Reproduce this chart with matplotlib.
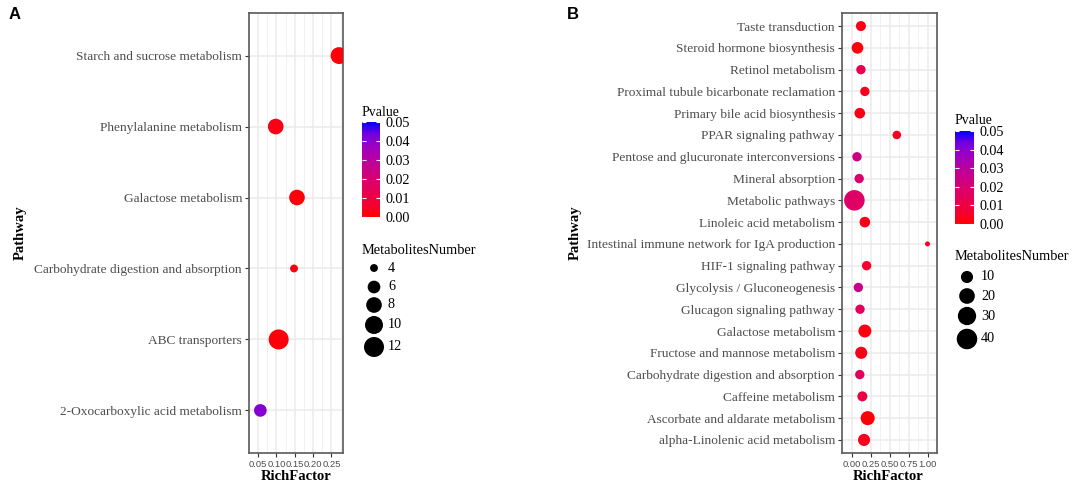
import numpy as np
import matplotlib
matplotlib.use("Agg")
import matplotlib.pyplot as plt
from matplotlib.colors import LinearSegmentedColormap, Normalize
from matplotlib.colorbar import ColorbarBase

SERIF = ['Liberation Serif', 'DejaVu Serif']
SANS = ['Liberation Sans', 'DejaVu Sans']
GREY30 = '#4D4D4D'

# ---- panel A (rows listed top to bottom) ----
a_pathways = ["Starch and sucrose metabolism", "Phenylalanine metabolism",
              "Galactose metabolism", "Carbohydrate digestion and absorption",
              "ABC transporters", "2-Oxocarboxylic acid metabolism"]
a_rich = [0.271, 0.098, 0.156, 0.148, 0.106, 0.056]
a_count = [9, 8, 8, 4, 12, 6]
a_pvalue = [0.001, 0.003, 0.001, 0.002, 0.001, 0.041]
a_xticks = [0.05, 0.10, 0.15, 0.20, 0.25]
a_xticklabels = ["0.05", "0.10", "0.15", "0.20", "0.25"]
a_size_breaks = [4, 6, 8, 10, 12]

# ---- panel B (rows listed top to bottom) ----
b_pathways = ["Taste transduction", "Steroid hormone biosynthesis", "Retinol metabolism",
              "Proximal tubule bicarbonate reclamation", "Primary bile acid biosynthesis",
              "PPAR signaling pathway", "Pentose and glucuronate interconversions",
              "Mineral absorption", "Metabolic pathways", "Linoleic acid metabolism",
              "Intestinal immune network for IgA production", "HIF-1 signaling pathway",
              "Glycolysis / Gluconeogenesis", "Glucagon signaling pathway",
              "Galactose metabolism", "Fructose and mannose metabolism",
              "Carbohydrate digestion and absorption", "Caffeine metabolism",
              "Ascorbate and aldarate metabolism", "alpha-Linolenic acid metabolism"]
b_rich = [0.124, 0.079, 0.124, 0.176, 0.109, 0.596, 0.072, 0.101, 0.038, 0.176,
          1.000, 0.199, 0.090, 0.112, 0.176, 0.128, 0.109, 0.143, 0.213, 0.165]
b_count = [6, 9, 5, 5, 7, 4, 5, 5, 40, 7, 2, 5, 5, 5, 12, 10, 5, 6, 15, 10]
b_pvalue = [0.003, 0.001, 0.012, 0.004, 0.003, 0.004, 0.024, 0.019, 0.017, 0.003,
            0.004, 0.006, 0.025, 0.015, 0.002, 0.003, 0.015, 0.011, 0.001, 0.004]
b_xticks = [0.00, 0.25, 0.50, 0.75, 1.00]
b_xticklabels = ["0.00", "0.25", "0.50", "0.75", "1.00"]
b_size_breaks = [10, 20, 30, 40]

p_breaks = [0.00, 0.01, 0.02, 0.03, 0.04, 0.05]

# red -> blue gradient (Lab-interpolated like ggplot)
cmap = LinearSegmentedColormap.from_list(
    "pval", ['#FF0000', '#F40031', '#E80050', '#DA006C', '#C90088',
             '#B500A5', '#9A00C3', '#7300E0', '#0000FF'])
norm = Normalize(0, 0.05)

# size scales: (lowest value, highest value, smallest diameter px, largest diameter px)
A_SIZE = (3.5, 12, 4, 20)
B_SIZE = (2, 40, 5, 20.5)

W, H = 1084, 496
fig = plt.figure(figsize=(W / 100, H / 100), dpi=100)


def px_box(left, top, right, bottom):
    return [left / W, 1 - bottom / H, (right - left) / W, (bottom - top) / H]


def diam_px(v, lo, hi, dmin, dmax):
    v = np.asarray(v, float)
    return dmin + (dmax - dmin) * np.sqrt(np.clip((v - lo) / (hi - lo), 0, 1))


def area(d):
    return (np.asarray(d) * 0.72) ** 2


def bubble_panel(box, pathways, rich, count, pvalue, xticks, xticklabels, size_args):
    ax = fig.add_axes(px_box(*box))
    y = np.arange(len(pathways))[::-1] + 1
    ax.scatter(rich, y, s=area(diam_px(count, *size_args)), c=pvalue, cmap=cmap,
               norm=norm, linewidths=0, zorder=3)
    lo, hi = min(rich), max(rich)
    pad = 0.05 * (hi - lo)
    ax.set_xlim(lo - pad, hi + pad)
    ax.set_ylim(0.4, len(pathways) + 0.6)
    ax.set_yticks(y)
    ax.set_yticklabels(pathways, family=SERIF, fontsize=9.6, color=GREY30)
    ax.set_xticks(xticks)
    ax.set_xticklabels(xticklabels, family=SANS, fontsize=6.8, color=GREY30)
    step = xticks[1] - xticks[0]
    ax.set_xticks(np.arange(xticks[0] - step / 2, xticks[-1] + step, step), minor=True)
    ax.grid(True, which='major', color='#EBEBEB', lw=1.1)
    ax.grid(True, which='minor', axis='x', color='#EFEFEF', lw=0.6)
    ax.set_axisbelow(True)
    ax.tick_params(which='minor', length=0)
    ax.tick_params(which='major', length=3, width=0.8, color='#333333', pad=2)
    for sp in ax.spines.values():
        sp.set_color('#5A5A5A')
        sp.set_linewidth(1.2)
    return ax


def colour_legend(cbar_box, title_y, size_title_y):
    left = cbar_box[0]
    fig.text(left / W, 1 - title_y / H, "Pvalue", family=SERIF, fontsize=10,
             ha='left', va='center')
    cax = fig.add_axes(px_box(*cbar_box))
    cb = ColorbarBase(cax, cmap=cmap, norm=norm, ticks=p_breaks)
    cb.outline.set_visible(False)
    cb.set_ticklabels([f"{p:.2f}" for p in p_breaks])
    cax.tick_params(direction='in', color='white', length=3, width=0.8, pad=4,
                    left=True, right=True, labelleft=False, labelright=True)
    for t in cax.get_yticklabels():
        t.set_family(SERIF)
        t.set_fontsize(10.2)
    fig.text(left / W, 1 - size_title_y / H, "MetabolitesNumber", family=SERIF,
             fontsize=10.4, ha='left', va='center')


bubble_panel((249, 13, 343, 453), a_pathways, a_rich, a_count, a_pvalue,
             a_xticks, a_xticklabels, A_SIZE)
bubble_panel((842, 13, 937, 453), b_pathways, b_rich, b_count, b_pvalue,
             b_xticks, b_xticklabels, B_SIZE)

# axis titles and panel letters
for cx, ycx in [(296, 20), (888, 575)]:
    fig.text(cx / W, 1 - 477 / H, "RichFactor", family=SERIF, fontweight='bold',
             fontsize=10.5, ha='center', va='center')
    fig.text(ycx / W, 1 - 233 / H, "Pathway", family=SERIF, fontweight='bold',
             fontsize=10.5, rotation=90, ha='center', va='center')
for letter, lx in [("A", 9), ("B", 567)]:
    fig.text(lx / W, 1 - 7 / H, letter, family=SANS, fontweight='bold',
             fontsize=12, ha='left', va='top')

colour_legend((362, 122, 380, 217), 112, 250)
colour_legend((955, 131, 974, 224), 121, 257)

# size legends drawn in pixel space on a transparent overlay
ov = fig.add_axes([0, 0, 1, 1])
ov.set_xlim(0, W)
ov.set_ylim(H, 0)
ov.axis('off')
for cx, lx, rows, breaks, size_args in [
        (374, 388, [268, 287, 305, 325, 347], a_size_breaks, A_SIZE),
        (967, 981, [277, 296, 316, 339], b_size_breaks, B_SIZE)]:
    ov.scatter([cx] * len(breaks), rows, s=area(diam_px(breaks, *size_args)),
               color='black', linewidths=0)
    for r, b in zip(rows, breaks):
        ov.text(lx, r, str(b), family=SERIF, fontsize=10.2, ha='left', va='center')

fig.savefig("out.png", dpi=100, facecolor='white')
